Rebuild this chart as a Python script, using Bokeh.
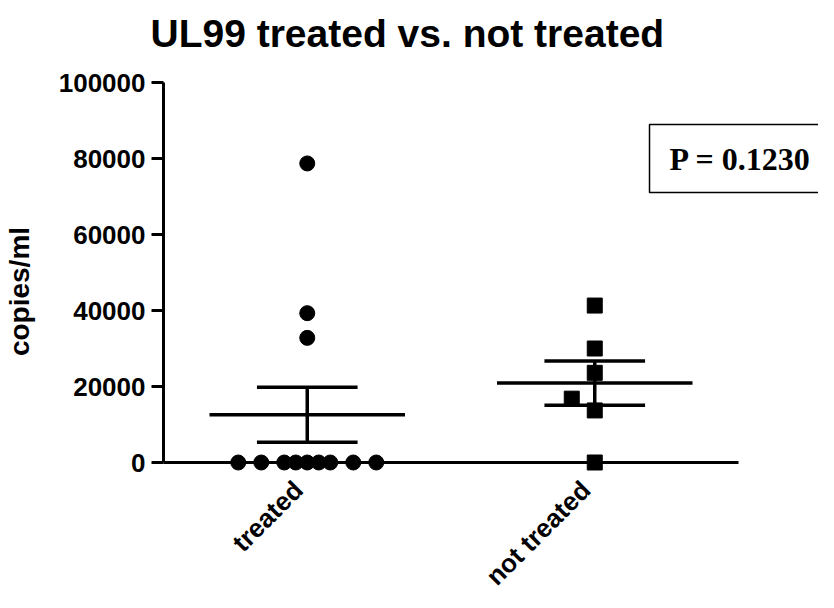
import numpy as np
from bokeh.plotting import figure
from bokeh.models import Range1d, FixedTicker, ColumnDataSource, NumeralTickFormatter
from bokeh.embed import file_html
from bokeh.resources import INLINE
from bokeh.core.properties import value

# ---- data ----
groups = ["treated", "not treated"]
treated_values = [0, 0, 0, 0, 0, 0, 0, 0, 0, 78700, 39300, 32800]
treated_jitter = [-0.24, -0.16, -0.08, -0.04, 0.0, 0.04, 0.08, 0.16, 0.24, 0.0, 0.0, 0.0]
not_treated_values = [41300, 30000, 23600, 16800, 13700, 0]
not_treated_jitter = [0.0, 0.0, 0.0, -0.08, 0.0, 0.0]
y_ticks = [0, 20000, 40000, 60000, 80000, 100000]
title_text = "UL99 treated vs. not treated"
y_label = "copies/ml"
p_value_text = "P = 0.1230"

FONT = "Liberation Sans"
W, H = 818, 592
Y_MIN, Y_MAX = 0, 100000

p = figure(width=W, height=H, output_backend="svg", toolbar_location=None,
           x_range=Range1d(0.5, 2.5), y_range=Range1d(Y_MIN, Y_MAX),
           min_border_left=163, min_border_right=80,
           min_border_top=82, min_border_bottom=130)
p.outline_line_color = None
p.xgrid.visible = False
p.ygrid.visible = False
p.background_fill_color = "white"

# y axis
ya = p.yaxis[0]
ya.ticker = FixedTicker(ticks=y_ticks)
ya.formatter = NumeralTickFormatter(format="0")
ya.minor_tick_line_color = None
ya.major_tick_in = 0
ya.major_tick_out = 12
ya.major_tick_line_width = 3
ya.axis_line_width = 3
ya.major_label_text_font = FONT
ya.major_label_text_font_size = "26px"
ya.major_label_text_font_style = "bold"
ya.major_label_text_color = "black"
ya.major_label_standoff = 6

# x axis (ticks only; category labels drawn as rotated text)
xa = p.xaxis[0]
xa.ticker = FixedTicker(ticks=[1, 2])
xa.major_label_overrides = {1: "", 2: ""}
xa.minor_tick_line_color = None
xa.major_tick_in = 0
xa.major_tick_out = 7
xa.major_tick_line_width = 3
xa.axis_line_width = 3

def overlay_text(**kw):
    r = p.text(**kw)
    r.level = "overlay"
    return r

# category labels
overlay_text(x=[i + 1 for i in range(len(groups))], y=[Y_MIN] * len(groups), text=groups,
             angle=np.pi / 4, x_offset=-9, y_offset=23,
             text_align="right", text_baseline="middle", text_font=value(FONT),
             text_font_size="26px", text_font_style="bold", text_color="black")

# y axis title
overlay_text(x=[0.5], y=[45000], text=[y_label], angle=np.pi / 2, x_offset=-144,
             text_align="center", text_baseline="middle", text_font=value(FONT),
             text_font_size="28px", text_font_style="bold", text_color="black")

# chart title
overlay_text(x=[0.5], y=[Y_MAX], text=[title_text], x_offset=-13, y_offset=-49,
             text_align="left", text_baseline="alphabetic", text_font=value(FONT),
             text_font_size="39px", text_font_style="bold", text_color="black")

# points
src_t = ColumnDataSource(dict(x=[1 + j for j in treated_jitter], y=treated_values))
src_n = ColumnDataSource(dict(x=[2 + j for j in not_treated_jitter], y=not_treated_values))
rt = p.scatter("x", "y", source=src_t, marker="circle", size=15,
               fill_color="black", line_color="black")
rn = p.scatter("x", "y", source=src_n, marker="square", size=15,
               fill_color="black", line_color="black")
rt.level = "overlay"
rn.level = "overlay"

# mean and SEM
def mean_sem(v):
    a = np.asarray(v, dtype=float)
    return a.mean(), a.std(ddof=1) / np.sqrt(len(a))

for i, vals in enumerate([treated_values, not_treated_values]):
    xc = i + 1
    m, s = mean_sem(vals)
    p.segment(x0=[xc - 0.34], x1=[xc + 0.34], y0=[m], y1=[m], line_width=3.5, line_color="black")
    p.segment(x0=[xc - 0.175, xc - 0.175], x1=[xc + 0.175, xc + 0.175],
              y0=[m + s, m - s], y1=[m + s, m - s], line_width=3.5, line_color="black")
    p.segment(x0=[xc], x1=[xc], y0=[m - s], y1=[m + s], line_width=3.5, line_color="black")

# p-value box
box = p.rect(x=[2.507], y=[80000], width=182, height=68, width_units="screen",
             height_units="screen", fill_color="white", line_color="black", line_width=1.5)
box.level = "overlay"
overlay_text(x=[2.507], y=[80000], text=[p_value_text], text_align="center",
             text_baseline="middle", text_font=value("Liberation Serif"),
             text_font_size="32px", text_font_style="bold", text_color="black")

open("out.html", "w").write(file_html(p, INLINE))
